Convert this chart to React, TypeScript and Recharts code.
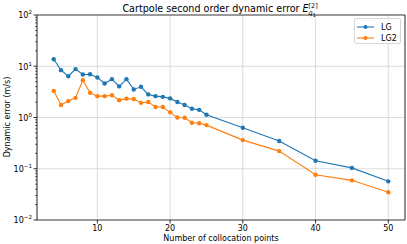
import React from "react"
import {
  LineChart,
  Line,
  XAxis,
  YAxis,
  CartesianGrid,
  ReferenceLine,
  Legend,
} from "recharts"

const points = [4, 5, 6, 7, 8, 9, 10, 11, 12, 13, 14, 15, 16, 17, 18, 19, 20, 21, 22, 23, 24, 25, 30, 35, 40, 45, 50]
const lgError = [
  13.7, 8.4, 6.4, 8.8, 6.9, 7.0, 6.05, 4.6, 5.6, 4.04, 5.6, 3.53, 3.97, 2.82, 2.61, 2.53, 2.36, 2.0, 1.75, 1.48, 1.41,
  1.13, 0.63, 0.347, 0.143, 0.104, 0.0568,
]
const lg2Error = [
  3.31, 1.75, 2.09, 2.42, 5.36, 3.03, 2.61, 2.61, 2.71, 2.18, 2.33, 2.3, 1.93, 2.0, 1.6, 1.6, 1.26, 1.0, 0.99, 0.79, 0.77,
  0.71, 0.362, 0.221, 0.0764, 0.0594, 0.0347,
]
const xTicks = [10, 20, 30, 40, 50]
const majorY = [0.01, 0.1, 1, 10, 100]
const exponents = ["\u22122", "\u22121", "0", "1", "2"]
const minorMult = [2, 3, 4, 5, 6, 7, 8, 9]

const BLUE = "#1f77b4"
const ORANGE = "#ff7f0e"
const FONT = "DejaVu Sans, sans-serif"

const minorY = majorY.slice(0, -1).flatMap((d) => minorMult.map((m) => +(d * m).toPrecision(3)))
const yTicks = [...majorY, ...minorY]

const chartData = points.map((n, i) => ({ n, lg: lgError[i], lg2: lg2Error[i] }))

function LogTick(props: any) {
  const { x, y, payload } = props
  const idx = majorY.indexOf(payload.value)
  if (idx < 0) {
    return <line x1={x - 2} x2={x} y1={y} y2={y} stroke="#000" strokeWidth={0.6} />
  }
  return (
    <g>
      <line x1={x - 3.5} x2={x} y1={y} y2={y} stroke="#000" strokeWidth={0.8} />
      <text x={x - 5} y={y} dy="0.42em" textAnchor="end" fontSize={8} fill="#000" fontFamily={FONT}>
        <tspan>10</tspan>
        <tspan dy={-4} fontSize={5.6}>
          {exponents[idx]}
        </tspan>
      </text>
    </g>
  )
}

function LegendBox() {
  const rows = [
    { name: "LG", color: BLUE },
    { name: "LG2", color: ORANGE },
  ]
  return (
    <div
      style={{
        width: 47,
        height: 26,
        border: "1px solid #d6d6d6",
        borderRadius: 2,
        background: "rgba(255,255,255,0.8)",
        fontFamily: FONT,
        fontSize: 8,
        boxSizing: "border-box",
        paddingTop: 3,
      }}
    >
      {rows.map((r) => (
        <div key={r.name} style={{ display: "flex", alignItems: "center", height: 10, marginBottom: 1 }}>
          <svg width={26} height={10}>
            <line x1={2} x2={19} y1={5} y2={5} stroke={r.color} strokeWidth={1.1} />
            <circle cx={10.5} cy={5} r={2} fill={r.color} />
          </svg>
          <span>{r.name}</span>
        </div>
      ))}
    </div>
  )
}

export default function App() {
  return (
    <div style={{ position: "absolute", left: 0, top: 0, width: 407, height: 244, fontFamily: FONT }}>
      <div
        style={{
          position: "absolute",
          left: 37,
          width: 368,
          top: 2,
          textAlign: "center",
          fontSize: 9.6,
          lineHeight: "12px",
          whiteSpace: "nowrap",
        }}
      >
        Cartpole second order dynamic error{" "}
        <span style={{ fontStyle: "italic" }}>E</span>
        <span style={{ display: "inline-block", position: "relative", width: 11, height: 10 }}>
          <span style={{ position: "absolute", left: 0, top: 0, fontSize: 6.5, lineHeight: "8px" }}>[2]</span>
          <span style={{ position: "absolute", left: 0, top: 7, fontSize: 6.5, lineHeight: "8px", fontStyle: "italic" }}>
            q<span style={{ fontSize: 5, fontStyle: "normal", position: "relative", top: 1.5 }}>1</span>
          </span>
        </span>
      </div>
      <div
        style={{
          position: "absolute",
          left: 7,
          top: 117,
          transform: "translate(-50%, -50%) rotate(-90deg)",
          fontSize: 8,
          whiteSpace: "nowrap",
        }}
      >
        Dynamic error (m/s)
      </div>
      <LineChart width={407} height={244} data={chartData} margin={{ top: 15, right: 2, left: 0, bottom: 0 }}>
        <CartesianGrid horizontal={false} stroke="#d3d3d3" strokeWidth={0.8} />
        {[0.1, 1, 10].map((v) => (
          <ReferenceLine key={v} y={v} stroke="#d3d3d3" strokeWidth={0.8} />
        ))}
        <ReferenceLine y={100} stroke="#000" strokeWidth={0.8} />
        <ReferenceLine x={52.3} stroke="#000" strokeWidth={0.8} />
        <XAxis
          dataKey="n"
          type="number"
          domain={[1.7, 52.3]}
          ticks={xTicks}
          allowDataOverflow
          height={24}
          tick={{ fontSize: 8, fill: "#000", fontFamily: FONT }}
          tickSize={3.5}
          tickMargin={1.5}
          axisLine={{ stroke: "#000", strokeWidth: 0.8 }}
          tickLine={{ stroke: "#000", strokeWidth: 0.8 }}
          label={{ value: "Number of collocation points", position: "insideBottom", offset: 3, fontSize: 8, fill: "#000", fontFamily: FONT }}
        />
        <YAxis
          type="number"
          scale="log"
          domain={[0.01, 100]}
          ticks={yTicks}
          interval={0}
          allowDataOverflow
          width={37}
          tickSize={0}
          tickMargin={0}
          tickLine={false}
          tick={<LogTick />}
          axisLine={{ stroke: "#000", strokeWidth: 0.8 }}
        />
        <Legend
          layout="vertical"
          align="center"
          verticalAlign="middle"
          wrapperStyle={{ left: 354, top: 18, width: 47 }}
          content={<LegendBox />}
        />
        <Line
          dataKey="lg"
          name="LG"
          stroke={BLUE}
          strokeWidth={1.1}
          dot={{ r: 2.2, fill: BLUE, stroke: "none" }}
          activeDot={false}
          isAnimationActive={false}
        />
        <Line
          dataKey="lg2"
          name="LG2"
          stroke={ORANGE}
          strokeWidth={1.1}
          dot={{ r: 2.2, fill: ORANGE, stroke: "none" }}
          activeDot={false}
          isAnimationActive={false}
        />
      </LineChart>
    </div>
  )
}
